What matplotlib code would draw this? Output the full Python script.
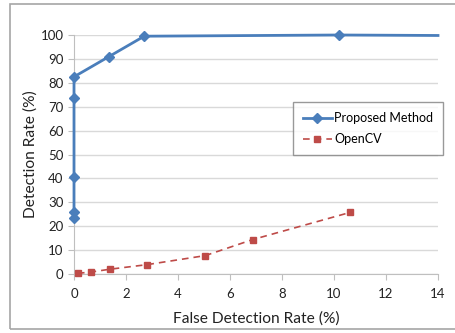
import matplotlib.pyplot as plt
from matplotlib.patches import Rectangle

plt.rcParams['font.family'] = ['Lato', 'DejaVu Sans']

# datos
prop_fdr = [0, 0, 0, 0, 0, 1.35, 2.7, 10.2, 14]
prop_dr = [23.5, 26, 40.5, 73.5, 82.5, 91, 99.5, 100, 99.8]
cv_fdr = [0.15, 0.64, 1.38, 2.8, 5.05, 6.87, 10.63]
cv_dr = [0.3, 0.8, 2.0, 3.9, 7.7, 14.4, 25.8]
x_ticks = [0, 2, 4, 6, 8, 10, 12, 14]
y_ticks = [0, 10, 20, 30, 40, 50, 60, 70, 80, 90, 100]

fig = plt.figure(figsize=(4.56, 3.33), dpi=100)
fig.patches.append(Rectangle((10/456, 4/333), 460/456, 325/333,
                             transform=fig.transFigure, fill=False,
                             edgecolor='#a6a6a6', linewidth=1.2))
ax = fig.add_axes([74/456, 1 - 274/333, 364/456, 239/333])

ax.plot(prop_fdr, prop_dr, color='#4a7ebb', linewidth=2, marker='D',
        markersize=5, markevery=list(range(8)), label='Proposed Method',
        clip_on=False, zorder=4)
ax.plot(cv_fdr, cv_dr, color='#be4b48', linewidth=1.2, linestyle=(0, (4, 3)),
        marker='s', markersize=4.5, label='OpenCV', zorder=3, clip_on=False)

ax.set_xlim(0, 14)
ax.set_ylim(0, 100)
ax.set_xticks(x_ticks)
ax.set_yticks(y_ticks)
ax.grid(axis='y', color='#d9d9d9', linewidth=1)
ax.set_axisbelow(True)
for s in ['top', 'right']:
    ax.spines[s].set_visible(False)
for s in ['left', 'bottom']:
    ax.spines[s].set_color('#bfbfbf')
ax.tick_params(colors='#bfbfbf', labelcolor='#222222', labelsize=9.5,
               length=4, direction='out')
ax.tick_params(axis='x', pad=6)
ax.set_xlabel('False Detection Rate (%)', fontsize=11.2, color='#222222', labelpad=8)
ax.set_ylabel('Detection Rate (%)', fontsize=11.2, color='#222222')
ax.yaxis.set_label_coords(-0.10, 0.5)

leg = ax.legend(loc='upper left', bbox_to_anchor=(219/364, 172/239),
                fancybox=False, fontsize=9, handlelength=2.3,
                borderpad=0.8, labelspacing=0.75, handletextpad=0.2,
                borderaxespad=0)
leg.get_frame().set_edgecolor('#808080')
leg.get_frame().set_linewidth(1)

fig.savefig('out.png', dpi=100)
